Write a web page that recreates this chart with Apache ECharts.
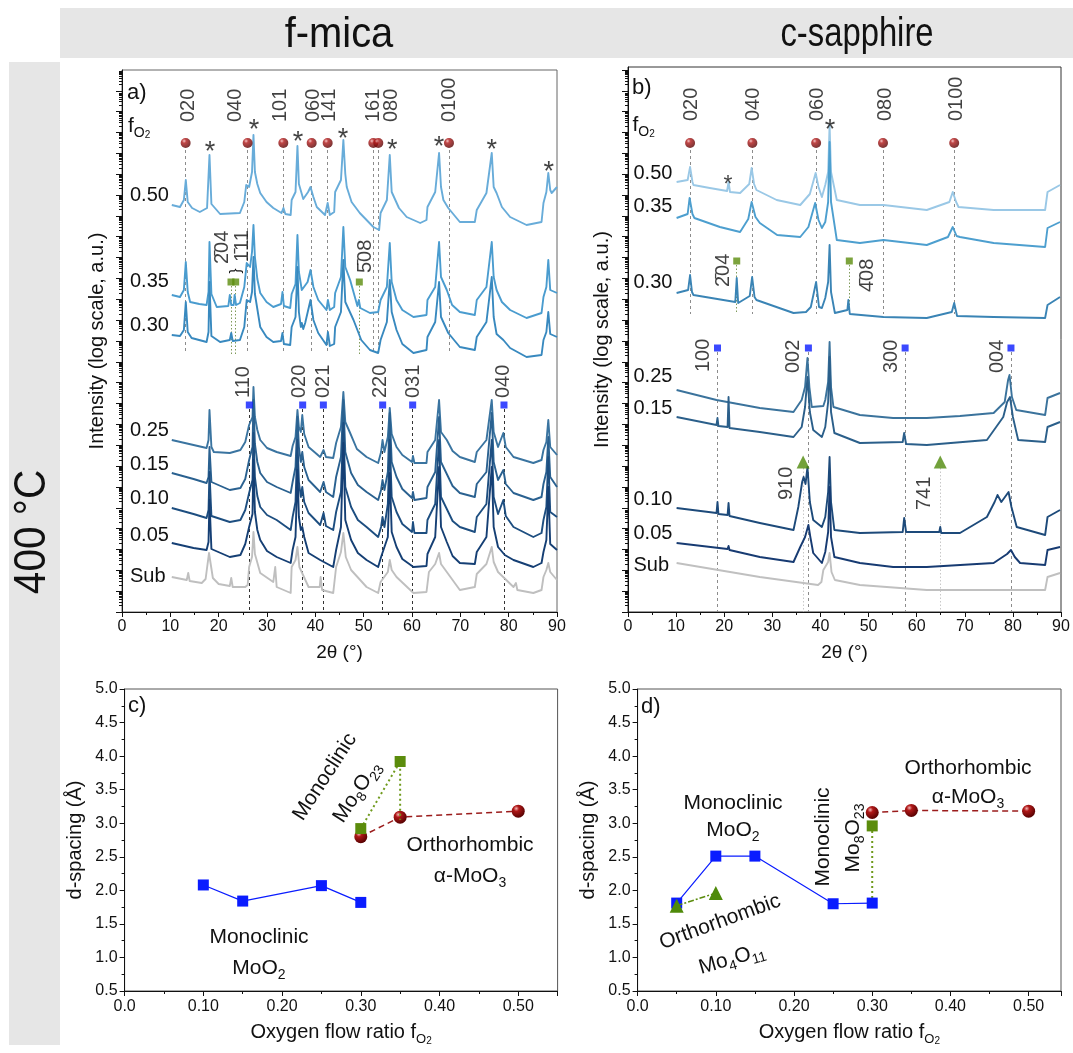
<!DOCTYPE html>
<html><head><meta charset="utf-8">
<script src="https://cdn.jsdelivr.net/npm/echarts@6/dist/echarts.min.js"></script>
<style>html,body{margin:0;padding:0;background:#fff}#c{width:1073px;height:1053px}</style>
</head><body><div id="c"></div><script>
// ---------------- DATA ----------------
// Trace labels (oxygen flow ratio fO2)
const fo2Labels = ['0.50','0.35','0.30','0.25','0.15','0.10','0.05','Sub'];
// Panel a (f-mica) XRD traces: [2theta (deg), log-intensity level (a.u., offset stack)]
const micaT050 = [[10.3,407],[12.0,405],[12.8,412],[13.2,432],[13.6,410],[14.5,404],[16.1,400],[17.6,404],[18.1,457],[18.5,408],[20.3,398],[24.4,399],[25.3,410],[25.7,427],[26.3,425],[26.9,440],[27.2,477],[27.5,440],[28.0,428],[28.6,419],[29.9,410],[31.3,404],[33.0,399],[33.4,404],[33.8,398],[34.9,397],[35.1,412],[35.9,420],[36.3,466],[36.6,428],[37.5,413],[38.5,420],[39.0,425],[39.6,415],[40.3,405],[42.0,397],[42.55,409],[43.0,397],[43.9,400],[44.1,420],[45.3,432],[45.8,472],[46.2,438],[46.5,425],[47.5,410],[49.2,399],[52.0,385],[53.2,382],[53.5,399],[54.8,412],[55.4,457],[55.8,420],[56.1,419],[57.3,404],[58.9,395],[61.7,389],[63.0,392],[63.2,405],[64.8,420],[65.6,459],[66.0,425],[66.5,412],[67.5,404],[69.9,390],[73.0,390],[73.4,402],[75.4,419],[76.5,459],[76.9,425],[77.5,419],[78.6,405],[80.3,395],[83.7,387],[86.8,390],[87.2,409],[87.8,420],[88.2,439],[88.6,422],[88.9,419],[90,425]];
const micaT035 = [[10.3,317],[12.0,315],[12.8,322],[13.2,350],[13.6,320],[14.1,310],[16.0,308],[17.5,307],[17.9,320],[18.1,370],[18.5,318],[19.6,305],[22.0,306],[22.3,317],[22.6,307],[23.1,307],[23.3,317],[23.6,307],[24.4,309],[25.3,325],[25.8,349],[26.5,345],[26.9,360],[27.2,387],[27.5,355],[28.0,333],[28.6,319],[29.9,310],[31.3,305],[32.9,308],[33.2,320],[33.5,306],[34.8,304],[35.1,318],[35.9,328],[36.3,377],[36.6,340],[37.2,322],[38.4,330],[39.0,342],[39.6,325],[40.6,312],[42.3,302],[42.6,312],[43.0,302],[43.9,305],[44.1,319],[45.3,335],[45.8,385],[46.2,345],[47.2,332],[48.7,306],[49.0,312],[49.3,304],[51.3,299],[53.0,300],[53.5,312],[54.8,325],[55.4,369],[55.8,330],[56.8,312],[58.0,302],[60.3,295],[63.0,297],[63.2,312],[64.8,325],[65.6,370],[66.0,335],[67.2,322],[68.3,307],[69.9,300],[73.0,297],[73.4,312],[75.4,325],[76.5,370],[76.9,335],[77.5,322],[78.6,310],[80.3,302],[83.7,294],[86.8,299],[87.2,315],[87.8,325],[88.2,352],[88.6,322],[90,319]];
const micaT030 = [[10.3,277],[12.0,276],[12.8,282],[13.2,310],[13.6,280],[14.4,274],[17.5,270],[17.9,280],[18.1,330],[18.5,276],[20.3,270],[22.3,272],[22.6,279],[22.9,271],[24.4,272],[25.3,285],[25.8,312],[26.5,310],[26.9,320],[27.2,355],[27.5,318],[28.6,285],[29.9,275],[31.3,270],[32.9,271],[33.2,279],[33.5,268],[34.8,267],[35.1,285],[35.9,295],[36.3,345],[36.6,300],[37.0,285],[37.2,289],[37.5,283],[37.9,289],[38.3,290],[39.0,312],[39.6,292],[40.6,279],[42.3,267],[42.6,280],[43.0,266],[43.9,268],[44.1,285],[45.3,300],[45.8,352],[46.2,310],[47.9,292],[49.5,272],[51.3,262],[53.0,259],[53.5,272],[54.8,290],[55.4,332],[55.8,300],[56.8,282],[58.0,268],[60.3,259],[63.0,262],[63.2,275],[64.8,290],[65.6,330],[66.0,295],[67.5,279],[69.9,265],[73.0,262],[73.4,275],[75.4,290],[76.5,335],[76.9,295],[77.5,278],[78.9,272],[80.3,264],[83.7,255],[86.8,257],[87.2,272],[87.8,280],[88.2,300],[88.6,278],[90,275]];
const micaT025 = [[10.3,172],[14.8,167],[17.5,164],[17.9,172],[18.1,202],[18.5,165],[19.0,160],[22.3,159],[24.5,162],[25.5,170],[26.3,187],[26.7,185],[27.0,195],[27.2,225],[27.5,195],[28.0,182],[28.6,172],[30.0,164],[32.0,160],[34.9,156],[35.3,166],[35.9,175],[36.3,202],[36.6,185],[37.0,180],[37.3,197],[37.7,178],[38.6,165],[41.0,155],[41.7,162],[42.2,155],[43.7,154],[44.3,169],[45.3,185],[45.8,220],[46.2,190],[47.2,179],[48.6,163],[50.6,155],[53.0,149],[53.6,160],[53.9,172],[54.3,160],[55.0,175],[55.4,204],[55.8,178],[56.8,165],[58.0,157],[60.0,150],[60.2,156],[60.5,149],[63.0,149],[63.2,160],[64.8,172],[65.6,212],[66.0,180],[67.2,172],[68.4,161],[69.9,155],[73.0,150],[73.4,160],[75.4,172],[76.5,212],[76.9,180],[77.8,165],[78.9,179],[79.4,165],[81.0,155],[85.1,149],[86.8,152],[87.2,162],[87.8,170],[88.2,192],[88.6,165],[90,157]];
const micaT015 = [[10.3,139],[14.8,133],[17.5,129],[17.9,135],[18.1,165],[18.5,130],[22.3,122],[24.5,124],[25.5,133],[26.3,152],[26.7,150],[27.0,165],[27.2,212],[27.5,168],[28.0,150],[28.6,139],[30.0,130],[32.0,125],[34.9,119],[35.3,130],[35.9,145],[36.3,195],[36.6,165],[37.0,150],[37.3,160],[37.7,145],[38.6,132],[41.0,120],[41.7,130],[42.2,120],[43.7,115],[44.3,135],[45.3,155],[45.8,212],[46.2,160],[47.4,139],[48.8,127],[50.6,120],[53.0,112],[53.6,122],[53.9,132],[54.3,122],[55.0,140],[55.4,199],[55.8,150],[56.8,135],[58.0,123],[60.0,114],[60.2,120],[60.5,112],[63.0,114],[63.2,125],[64.8,140],[65.6,195],[66.0,150],[67.2,138],[68.4,126],[69.9,119],[73.0,115],[73.4,128],[75.4,140],[76.5,199],[76.9,150],[77.8,132],[78.9,142],[79.4,128],[81.0,119],[85.1,112],[86.8,115],[87.2,128],[87.8,140],[88.2,175],[88.6,135],[90,125]];
const micaT010 = [[10.3,104],[14.8,98],[17.5,94],[17.9,102],[18.1,140],[18.5,96],[22.3,90],[24.5,92],[25.5,102],[26.3,119],[26.7,117],[27.0,132],[27.2,179],[27.5,135],[28.0,116],[28.6,105],[30.0,97],[32.0,92],[34.9,82],[35.3,95],[35.9,110],[36.3,172],[36.6,130],[37.0,115],[37.3,125],[37.7,110],[38.6,99],[41.0,87],[41.7,99],[42.2,86],[43.7,82],[44.3,100],[45.3,120],[45.8,189],[46.2,125],[47.4,105],[48.8,92],[50.6,85],[53.0,75],[53.6,85],[53.9,95],[54.3,85],[55.0,108],[55.4,172],[55.8,115],[56.8,100],[58.0,88],[60.0,80],[60.2,90],[60.5,79],[63.0,79],[63.2,92],[64.8,108],[65.6,172],[66.0,115],[67.2,103],[68.4,91],[69.9,85],[73.0,80],[73.4,95],[75.4,108],[76.5,172],[76.9,115],[77.8,98],[78.9,112],[79.4,96],[81.0,85],[85.1,75],[86.8,79],[87.2,92],[87.8,105],[88.2,155],[88.6,100],[90,95]];
const micaT005 = [[10.3,69],[14.8,64],[17.5,62],[17.9,70],[18.1,112],[18.5,63],[22.3,55],[24.5,57],[25.5,68],[26.3,85],[26.7,83],[27.0,98],[27.2,152],[27.5,100],[28.0,82],[28.6,72],[30.0,61],[32.0,55],[34.9,49],[35.3,62],[35.9,75],[36.3,142],[36.6,95],[37.0,82],[37.3,85],[37.7,75],[38.6,59],[41.0,52],[43.7,45],[44.3,62],[45.3,85],[45.8,169],[46.2,92],[47.4,72],[48.8,59],[50.6,52],[53.0,45],[53.6,55],[55.0,75],[55.4,139],[55.8,80],[56.8,65],[58.0,53],[60.3,45],[63.0,46],[63.2,58],[64.8,75],[65.6,145],[66.0,85],[67.2,70],[68.4,56],[69.9,49],[73.0,48],[73.4,60],[75.4,75],[76.5,145],[76.9,85],[77.8,65],[79.2,57],[81.0,52],[85.1,45],[86.8,49],[87.2,60],[87.8,72],[88.2,125],[88.6,68],[90,62]];
const micaTSub = [[10.3,35],[13.4,32],[13.7,39],[14.0,31],[16.5,29],[17.3,33],[18.0,59],[18.8,34],[20.0,28],[22.3,26],[22.6,34],[22.9,25],[25.5,25],[26.0,27],[26.3,45],[26.9,55],[27.2,80],[27.5,58],[28.6,39],[31.3,30],[31.7,45],[32.0,25],[34.9,19],[35.1,45],[35.9,52],[36.3,65],[36.7,45],[38.6,25],[40.9,25],[41.1,35],[41.4,22],[43.7,19],[44.3,45],[45.3,60],[45.8,79],[46.3,55],[47.4,42],[50.6,25],[53.0,19],[53.5,30],[55.0,40],[55.4,52],[55.8,42],[56.8,35],[60.3,19],[63.0,20],[63.5,40],[64.8,48],[65.6,59],[66.0,48],[67.2,40],[69.9,22],[73.0,25],[73.4,38],[75.4,48],[76.5,65],[76.9,50],[77.8,40],[81.0,25],[81.5,29],[81.8,22],[85.1,19],[86.8,22],[87.2,35],[87.8,42],[88.2,49],[88.6,40],[90,32]];
// Panel b (c-sapphire) XRD traces
const sapT050 = [[10.1,430],[12.4,432],[12.9,445],[13.4,430],[13.6,427],[17.0,424],[20.6,421],[20.9,430],[21.2,420],[23.3,419],[25.2,428],[25.7,444],[26.2,428],[26.7,422],[30.9,412],[35.8,407],[37.8,418],[39.0,439],[39.6,425],[40.3,415],[41.0,427],[41.6,440],[41.9,487],[42.2,440],[43.4,412],[48.2,407],[53.1,407],[62.1,402],[66.8,410],[67.5,420],[68.2,410],[68.7,405],[76.0,402],[86.7,402],[87.2,420],[89.8,427]];
const sapT035 = [[10.1,394],[12.4,398],[12.8,414],[13.4,398],[13.8,394],[19.1,385],[23.3,380],[25.0,393],[25.7,410],[26.5,395],[27.4,389],[31.0,377],[35.8,375],[37.5,385],[38.9,409],[39.6,392],[40.3,384],[41.0,390],[41.6,410],[41.9,470],[42.2,410],[43.4,372],[48.2,369],[53.1,372],[62.1,367],[66.5,375],[67.5,385],[68.3,376],[69.0,375],[76.0,369],[86.7,365],[87.2,384],[89.8,390]];
const sapT030 = [[10.1,319],[12.5,322],[12.9,337],[13.3,320],[13.6,317],[22.3,310],[22.6,334],[22.9,309],[23.3,309],[25.3,316],[25.8,335],[26.3,315],[26.7,312],[34.4,299],[37.0,300],[38.0,305],[39.1,330],[39.7,305],[40.3,304],[41.0,314],[41.6,330],[41.9,367],[42.2,320],[43.0,299],[45.6,302],[45.8,312],[46.1,298],[53.1,295],[62.1,294],[67.3,300],[67.8,309],[68.4,296],[76.0,295],[86.7,294],[87.2,307],[89.8,315]];
const sapT025 = [[10.1,222],[18.4,212],[27.4,204],[34.4,200],[36.1,212],[36.8,225],[37.3,254],[37.7,225],[38.2,205],[40.6,206],[41.0,212],[41.6,230],[41.9,270],[42.2,225],[42.7,205],[48.2,197],[55.1,194],[62.1,194],[69.0,196],[76.0,199],[78.3,210],[79.0,232],[79.3,237],[79.8,215],[80.7,202],[86.7,197],[87.2,214],[89.8,219]];
const sapT015 = [[10.1,195],[18.4,187],[18.6,194],[18.8,186],[20.7,185],[20.9,215],[21.1,184],[27.4,180],[34.4,175],[36.1,185],[36.8,205],[37.3,235],[37.8,200],[38.5,182],[40.3,175],[41.0,185],[41.6,210],[41.9,255],[42.2,200],[42.9,179],[48.2,169],[57.1,170],[57.4,179],[57.8,168],[62.1,167],[74.6,172],[78.0,195],[78.8,210],[79.4,215],[80.0,195],[81.1,172],[86.7,170],[87.2,185],[89.8,190]];
const sapT010 = [[10.1,104],[18.4,99],[18.6,110],[18.8,98],[20.7,97],[20.9,109],[21.1,96],[27.4,89],[34.4,82],[35.4,105],[36.2,130],[36.5,135],[36.9,128],[37.3,145],[37.8,110],[38.5,92],[40.3,85],[41.0,95],[41.6,120],[41.9,155],[42.2,110],[42.9,82],[48.2,79],[57.1,80],[57.4,94],[57.8,80],[64.7,80],[64.9,85],[65.1,79],[69.0,79],[74.6,95],[76.2,110],[76.8,117],[77.6,110],[79.1,120],[79.7,105],[80.8,85],[86.7,77],[87.2,95],[89.8,102]];
const sapT005 = [[10.1,69],[20.7,63],[20.9,66],[21.1,62],[27.4,55],[34.4,50],[35.8,65],[36.8,75],[37.5,87],[37.9,75],[38.5,59],[40.3,49],[41.0,60],[41.6,80],[41.9,125],[42.2,75],[42.9,55],[48.2,49],[55.1,45],[62.1,45],[76.0,49],[78.8,58],[79.6,62],[80.4,55],[81.5,49],[86.7,47],[87.2,62],[89.8,65]];
const sapTSub = [[10.1,49],[27.4,35],[39.5,27],[40.2,30],[40.6,42],[41.6,50],[41.9,59],[42.3,40],[43.0,32],[48.2,27],[62.1,22],[86.7,22],[87.2,35],[89.8,39]];
// Reflection markers: [hkl, 2theta]
const micaMoO3 = [['020',13.17],['040',25.99],['101',33.38],['060',39.24],['141',42.55],['161',52.0],['080',53.03],['0100',67.65]];
const micaMo8O23 = [['2\u030404',22.55],['1\u030411',23.52],['5\u030408',49.1]];
const micaMoO2 = [['110',26.34],['020',37.38],['021',41.66],['220',53.93],['031',60.14],['040',79.03]];
const micaSubPeaks = [18.2,27.3,36.4,45.7,55.9,65.6,76.5,88.3];
const sapMoO3 = [['020',12.9],['040',25.85],['060',39.1],['080',53.0],['0100',67.8]];
const sapMo8O23 = [['2\u030404',22.6],['4\u030408',46.0]];
const sapMoO2 = [['100',18.6],['002',37.5],['300',57.6],['004',79.6]];
const sapMo4O11 = [['910',36.4],['741',64.9]];
const sapSubPeaks = [20.8,42.0];
// Panels c, d: d-spacing (Angstrom) vs oxygen flow ratio
const cMoO2 = [[0.10,2.08],[0.15,1.84],[0.25,2.07],[0.30,1.82]];
const cMo8O23 = [[0.30,2.92],[0.35,3.92],[0.35,3.05]];
const cMoO3 = [[0.30,2.80],[0.35,3.09],[0.50,3.18]];
const dMoO2 = [[0.05,1.81],[0.10,2.51],[0.15,2.51],[0.25,1.80],[0.30,1.81]];
const dMo4O11 = [[0.05,1.77],[0.10,1.96]];
const dMo8O23 = [[0.30,1.81],[0.30,2.96]];
const dMoO3 = [[0.30,3.16],[0.35,3.19],[0.50,3.18]];

// ---------------- LAYOUT / STYLE ----------------
const F = '"Liberation Sans", Arial, sans-serif';
const DEC = 20.85; // axis units per decade (log axis)
const colA = ['#68acd9','#4a9ccf','#3889bf','#3a74a0','#2a6190','#1d4e80','#153f74','#bfbfbf'];
const colB = ['#9ac8e6','#4d9fcf','#3a84b5','#3b739c','#2b5f8a','#1d4a7a','#173b72','#c0c0c0'];
const tracesA = [micaT050,micaT035,micaT030,micaT025,micaT015,micaT010,micaT005,micaTSub];
const tracesB = [sapT050,sapT035,sapT030,sapT025,sapT015,sapT010,sapT005,sapTSub];
const ball = new echarts.graphic.RadialGradient(0.35,0.3,0.75,[{offset:0,color:'#f3b6b6'},{offset:0.28,color:'#b01818'},{offset:1,color:'#520000'}]);
const GREEN = '#5b8c0c', BLUE = '#0a1cff', RED = '#9b1c1c';

function logTicks(max){
  const major=[], minor=[];
  for(let n=0;n*DEC<=max+0.01;n++){
    major.push(+(n*DEC).toFixed(2));
    for(let k=2;k<=9;k++){const v=(n+Math.log10(k))*DEC; if(v<=max) minor.push(+v.toFixed(2));}
  }
  return {major,minor};
}
const tkA = logTicks(542), tkB = logTicks(545);

function xrdX(gi){
  return {type:'value',gridIndex:gi,min:0,max:90,interval:10,
    name:'2\u03b8 (\u00b0)',nameLocation:'middle',nameGap:31,
    nameTextStyle:{fontSize:19,fontFamily:F,color:'#111'},
    axisLine:{show:true,lineStyle:{color:'#111',width:1}},
    axisTick:{show:true,length:5,lineStyle:{color:'#111'}},
    minorTick:{show:true,splitNumber:2,length:3,lineStyle:{color:'#111'}},
    axisLabel:{fontSize:16,fontFamily:F,color:'#111',margin:7},
    splitLine:{show:false},minorSplitLine:{show:false}};
}
function xrdY(gi,max,tk,nameGap){
  return [{type:'value',gridIndex:gi,min:0,max:max,position:'left',
    name:'Intensity (log scale, a.u.)',nameLocation:'middle',nameGap:nameGap,
    nameTextStyle:{fontSize:20,fontFamily:F,color:'#111'},
    axisLine:{show:true,lineStyle:{color:'#111'}},
    axisTick:{show:true,length:6,customValues:tk.major,lineStyle:{color:'#111'}},
    axisLabel:{show:false},splitLine:{show:false}},
   {type:'value',gridIndex:gi,min:0,max:max,position:'left',
    axisLine:{show:false},
    axisTick:{show:true,length:3,customValues:tk.minor,lineStyle:{color:'#111'}},
    axisLabel:{show:false},splitLine:{show:false}}];
}
function dX(gi,max){
  return {type:'value',gridIndex:gi,min:0,max:max,interval:0.1,
    name:'{t|Oxygen flow ratio f}{s|O}{ss|2}',nameLocation:'middle',nameGap:27,
    nameTextStyle:{fontSize:20,fontFamily:F,color:'#111',rich:{
      t:{fontSize:20,fontFamily:F,color:'#111',lineHeight:28},
      s:{fontSize:13,fontFamily:F,color:'#111',lineHeight:13,verticalAlign:'bottom'},
      ss:{fontSize:10,fontFamily:F,color:'#111',lineHeight:6,verticalAlign:'bottom'}}},
    axisLine:{show:true,lineStyle:{color:'#111'}},
    axisTick:{show:true,length:5,lineStyle:{color:'#111'}},
    minorTick:{show:true,splitNumber:2,length:3,lineStyle:{color:'#111'}},
    axisLabel:{fontSize:16,fontFamily:F,color:'#111',margin:8,showMaxLabel:false,
      formatter:v=>v===0?'0.0':v.toFixed(2)},
    splitLine:{show:false}};
}
function dY(gi){
  return {type:'value',gridIndex:gi,min:0.5,max:5.0,interval:0.5,
    name:'d-spacing (\u00c5)',nameLocation:'middle',nameGap:39,
    nameTextStyle:{fontSize:20,fontFamily:F,color:'#111'},
    axisLine:{show:true,lineStyle:{color:'#111'}},
    axisTick:{show:true,length:5,lineStyle:{color:'#111'}},
    minorTick:{show:true,splitNumber:2,length:3,lineStyle:{color:'#111'}},
    axisLabel:{fontSize:16,fontFamily:F,color:'#111',margin:7,formatter:v=>v.toFixed(1)},
    splitLine:{show:false}};
}

const series = [];
function addTraces(xi,yi,traces,cols){
  traces.forEach((t,i)=>series.push({type:'line',xAxisIndex:xi,yAxisIndex:yi,data:t,
    showSymbol:false,symbol:'none',silent:true,z:3,
    lineStyle:{color:cols[i],width:1.9,join:'round'}}));
}
// markers with rotated labels; lab = [[dx,dyc],...] text-start offsets from marker centre (px)
function addMarks(xi,yi,peaks,h,sym,size,color,lab,fs){
  series.push({type:'scatter',xAxisIndex:xi,yAxisIndex:yi,symbol:sym,symbolSize:size,z:6,silent:true,
    itemStyle:{color:color,borderWidth:0},
    data:peaks.map((p,i)=>({value:[p[1],h],name:p[0],
      label:{show:true,position:[size/2+lab[i][0],size/2+lab[i][1]],rotate:90,align:'left',verticalAlign:'middle',
        formatter:'{b}',fontSize:fs||20,fontFamily:F,color:'#111'}}))});
}
function addVLines(xi,yi,peaks,y1,y2,color,type,width){
  series.push({type:'lines',coordinateSystem:'cartesian2d',xAxisIndex:xi,yAxisIndex:yi,silent:true,z:2,
    lineStyle:{color:color,type:type,width:width||1,opacity:1,curveness:0},
    data:peaks.map(p=>({coords:[[typeof p==='number'?p:p[1],y1],[typeof p==='number'?p:p[1],y2]]}))});
}
function addStars(xi,yi,pos,hs,fs){
  series.push({type:'scatter',xAxisIndex:xi,yAxisIndex:yi,symbol:'circle',symbolSize:1,z:6,silent:true,
    itemStyle:{color:'rgba(0,0,0,0)'},
    data:pos.map((p,i)=>({value:[p,hs[i]],label:{show:true,position:'inside',formatter:'*',
      fontSize:fs[i],fontFamily:F,color:'#111',offset:[0,8]}}))});
}

// Panel a
addVLines(0,0,micaMoO3,462,258,'#8c8c8c',[3,3]);
addVLines(0,0,micaMo8O23,326,258,'#7f9a5a',[1.5,2]);
addVLines(0,0,micaMoO2,203,0,'#333',[3,3]);
addTraces(0,0,tracesA,colA);
addMarks(0,0,micaMoO3,469,'circle',10,ball,[[3,-21],[-12,-21],[-3,-21],[2,-21],[2,-21],[0,-21],[13,-21],[1,-21]]);
addMarks(0,0,micaMo8O23,330,'rect',7,GREEN,[[-8.5,-18],[6.5,-20],[6,-9]]);
addMarks(0,0,micaMoO2,207,'rect',7,BLUE,[[-6,-7],[-3,-7],[0,-7],[-2,-7],[1,-7],[0,-7]]);
addStars(0,0,micaSubPeaks,[467,489,477,480,469,472,469,447],[27,27,27,27,27,27,27,27]);
// Panel b
addVLines(1,2,sapMoO3,462,298,'#8c8c8c',[3,3]);
addVLines(1,2,sapMo8O23,347,300,'#7f9a5a',[1.5,2]);
addVLines(1,2,sapMoO2,260,0,'#8c8c8c',[3,3]);
addVLines(1,2,sapMo4O11,144,0,'#c8c8c8',[1.5,2]);
addTraces(1,2,tracesB,colB);
addMarks(1,2,sapMoO3,469,'circle',10,ball,[[1,-22],[1,-22],[1,-22],[2,-22],[2,-22]]);
addMarks(1,2,sapMo8O23,351,'rect',7,GREEN,[[-13.5,26],[18,31]]);
addMarks(1,2,sapMoO2,264,'rect',7,BLUE,[[-14.5,24],[-14.5,25],[-14,25],[-13.5,25]]);
addMarks(1,2,sapMo4O11,150,'triangle',13,'#4f8a0a',[[-17,38],[-15.5,48]]);
addStars(1,2,sapSubPeaks,[434,489],[23,27]);
// Panel c
series.push({type:'line',xAxisIndex:2,yAxisIndex:4,data:cMoO2,symbol:'rect',symbolSize:11,z:4,
  lineStyle:{color:BLUE,width:1.2},itemStyle:{color:BLUE}});
series.push({type:'line',xAxisIndex:2,yAxisIndex:4,data:cMoO3,symbol:'circle',symbolSize:13,z:4,
  lineStyle:{color:RED,width:1.5,type:[6,4]},itemStyle:{color:ball}});
series.push({type:'line',xAxisIndex:2,yAxisIndex:4,z:5,
  data:[{value:cMo8O23[0]},{value:cMo8O23[1]},{value:cMo8O23[2],symbol:'none'}],symbol:'rect',symbolSize:11,
  lineStyle:{color:'#6f9a1c',width:2,type:[2,3]},itemStyle:{color:GREEN}});
// Panel d
series.push({type:'line',xAxisIndex:3,yAxisIndex:5,data:dMoO2,symbol:'rect',symbolSize:11,z:4,
  lineStyle:{color:BLUE,width:1.2},itemStyle:{color:BLUE}});
series.push({type:'line',xAxisIndex:3,yAxisIndex:5,data:dMo4O11,symbol:'triangle',symbolSize:14,z:5,
  lineStyle:{color:'#5b8c0c',width:1.5,type:[6,2,2,2]},itemStyle:{color:'#4f8a0a'}});
series.push({type:'line',xAxisIndex:3,yAxisIndex:5,z:3,
  data:[{value:dMo8O23[0],symbol:'none'},{value:dMo8O23[1]}],symbol:'rect',symbolSize:11,
  lineStyle:{color:'#6f9a1c',width:2,type:[2,3]},itemStyle:{color:GREEN}});
series.push({type:'line',xAxisIndex:3,yAxisIndex:5,data:dMoO3,symbol:'circle',symbolSize:13,z:4,
  lineStyle:{color:RED,width:1.5,type:[6,4]},itemStyle:{color:ball}});

// graphic text helpers
function T(x,y,text,fs,opt){
  opt=opt||{};
  return Object.assign({type:'text',x:x,y:y,silent:true,z:10,
    style:Object.assign({text:text,fontSize:fs,fontFamily:F,fill:'#111',
      textAlign:opt.align||'left',textVerticalAlign:'middle'},opt.style||{})},opt.el||{});
}
const subRich = {n:{fontSize:21,fontFamily:F,fill:'#111',lineHeight:28},
  s:{fontSize:14,fontFamily:F,fill:'#111',lineHeight:14,verticalAlign:'bottom'}};
const foRich = {f:{fontSize:21,fontFamily:F,fill:'#111',lineHeight:28},
  s:{fontSize:14,fontFamily:F,fill:'#111',lineHeight:14,verticalAlign:'bottom'},
  ss:{fontSize:10,fontFamily:F,fill:'#111',lineHeight:6,verticalAlign:'bottom'}};
const labA = [195,281.7,325,430,464,498.3,535,576.7];
const labB = [173.3,206.7,282.7,376.7,408.3,499.3,533.3,565];
const graphics = [
  {type:'rect',shape:{x:60,y:8,width:1013,height:50},style:{fill:'#e6e6e6'},silent:true,z:0},
  {type:'rect',shape:{x:9,y:62,width:51,height:983},style:{fill:'#e6e6e6'},silent:true,z:0},
  T(339,35,'f-mica',42,{align:'center',el:{scaleX:0.95}}),
  T(857,35,'c-sapphire',40,{align:'center',el:{scaleX:0.82}}),
  T(33,532,'400 \u00b0C',45,{align:'center',el:{rotation:Math.PI/2,scaleX:0.9}}),
  T(127,93,'a)',22),
  T(632,88,'b)',22),
  T(128,706,'c)',22),
  T(641,707,'d)',22),
  T(128,126,'{f|f}{s|O}{ss|2}',21,{style:{rich:foRich}}),
  T(632.5,125,'{f|f}{s|O}{ss|2}',21,{style:{rich:foRich}}),
  T(236,271,'{',15,{align:'center',el:{rotation:-Math.PI/2}}),
  // panel c phase labels
  T(325,777,'Monoclinic',21,{align:'center',el:{rotation:57*Math.PI/180}}),
  T(357,792,'{n|Mo}{s|8}{n|O}{s|23}',21,{align:'center',style:{rich:subRich},el:{rotation:57*Math.PI/180}}),
  T(470,845,'Orthorhombic',21,{align:'center'}),
  T(470,876,'{n|\u03b1-MoO}{s|3}',21,{align:'center',style:{rich:subRich}}),
  T(259,937,'Monoclinic',21,{align:'center'}),
  T(259,968,'{n|MoO}{s|2}',21,{align:'center',style:{rich:subRich}}),
  // panel d phase labels
  T(733,803,'Monoclinic',21,{align:'center'}),
  T(733,830,'{n|MoO}{s|2}',21,{align:'center',style:{rich:subRich}}),
  T(968,768,'Orthorhombic',21,{align:'center'}),
  T(968,797,'{n|\u03b1-MoO}{s|3}',21,{align:'center',style:{rich:subRich}}),
  T(823,837,'Monoclinic',21,{align:'center',el:{rotation:Math.PI/2}}),
  T(853,838,'{n|Mo}{s|8}{n|O}{s|23}',21,{align:'center',style:{rich:subRich},el:{rotation:Math.PI/2}}),
  T(720,922,'Orthorhombic',21,{align:'center',el:{rotation:20*Math.PI/180}}),
  T(732,959,'{n|Mo}{s|4}{n|O}{s|11}',21,{align:'center',style:{rich:subRich},el:{rotation:16*Math.PI/180}})
];
fo2Labels.forEach((l,i)=>{graphics.push(T(130,labA[i],l,20)); graphics.push(T(633.5,labB[i],l,20));});

const chart = echarts.init(document.getElementById('c'),null,{renderer:'canvas',width:1073,height:1053});
chart.setOption({
  animation:false,backgroundColor:'#fff',
  grid:[
    {left:122,top:70,width:435,height:542,show:true,borderColor:'#666',borderWidth:1,outerBoundsMode:'none'},
    {left:628,top:67,width:433,height:545,show:true,borderColor:'#333',borderWidth:1,outerBoundsMode:'none'},
    {left:124.6,top:689,width:433,height:302,show:true,borderColor:'#555',borderWidth:1,outerBoundsMode:'none'},
    {left:637.6,top:689,width:423.4,height:302,show:true,borderColor:'#555',borderWidth:1,outerBoundsMode:'none'}
  ],
  xAxis:[xrdX(0),xrdX(1),dX(2,0.55),dX(3,0.5414)],
  yAxis:[...xrdY(0,542,tkA,15),...xrdY(1,545,tkB,16),dY(2),dY(3)],
  series:series,
  graphic:{elements:graphics}
});
</script></body></html>
